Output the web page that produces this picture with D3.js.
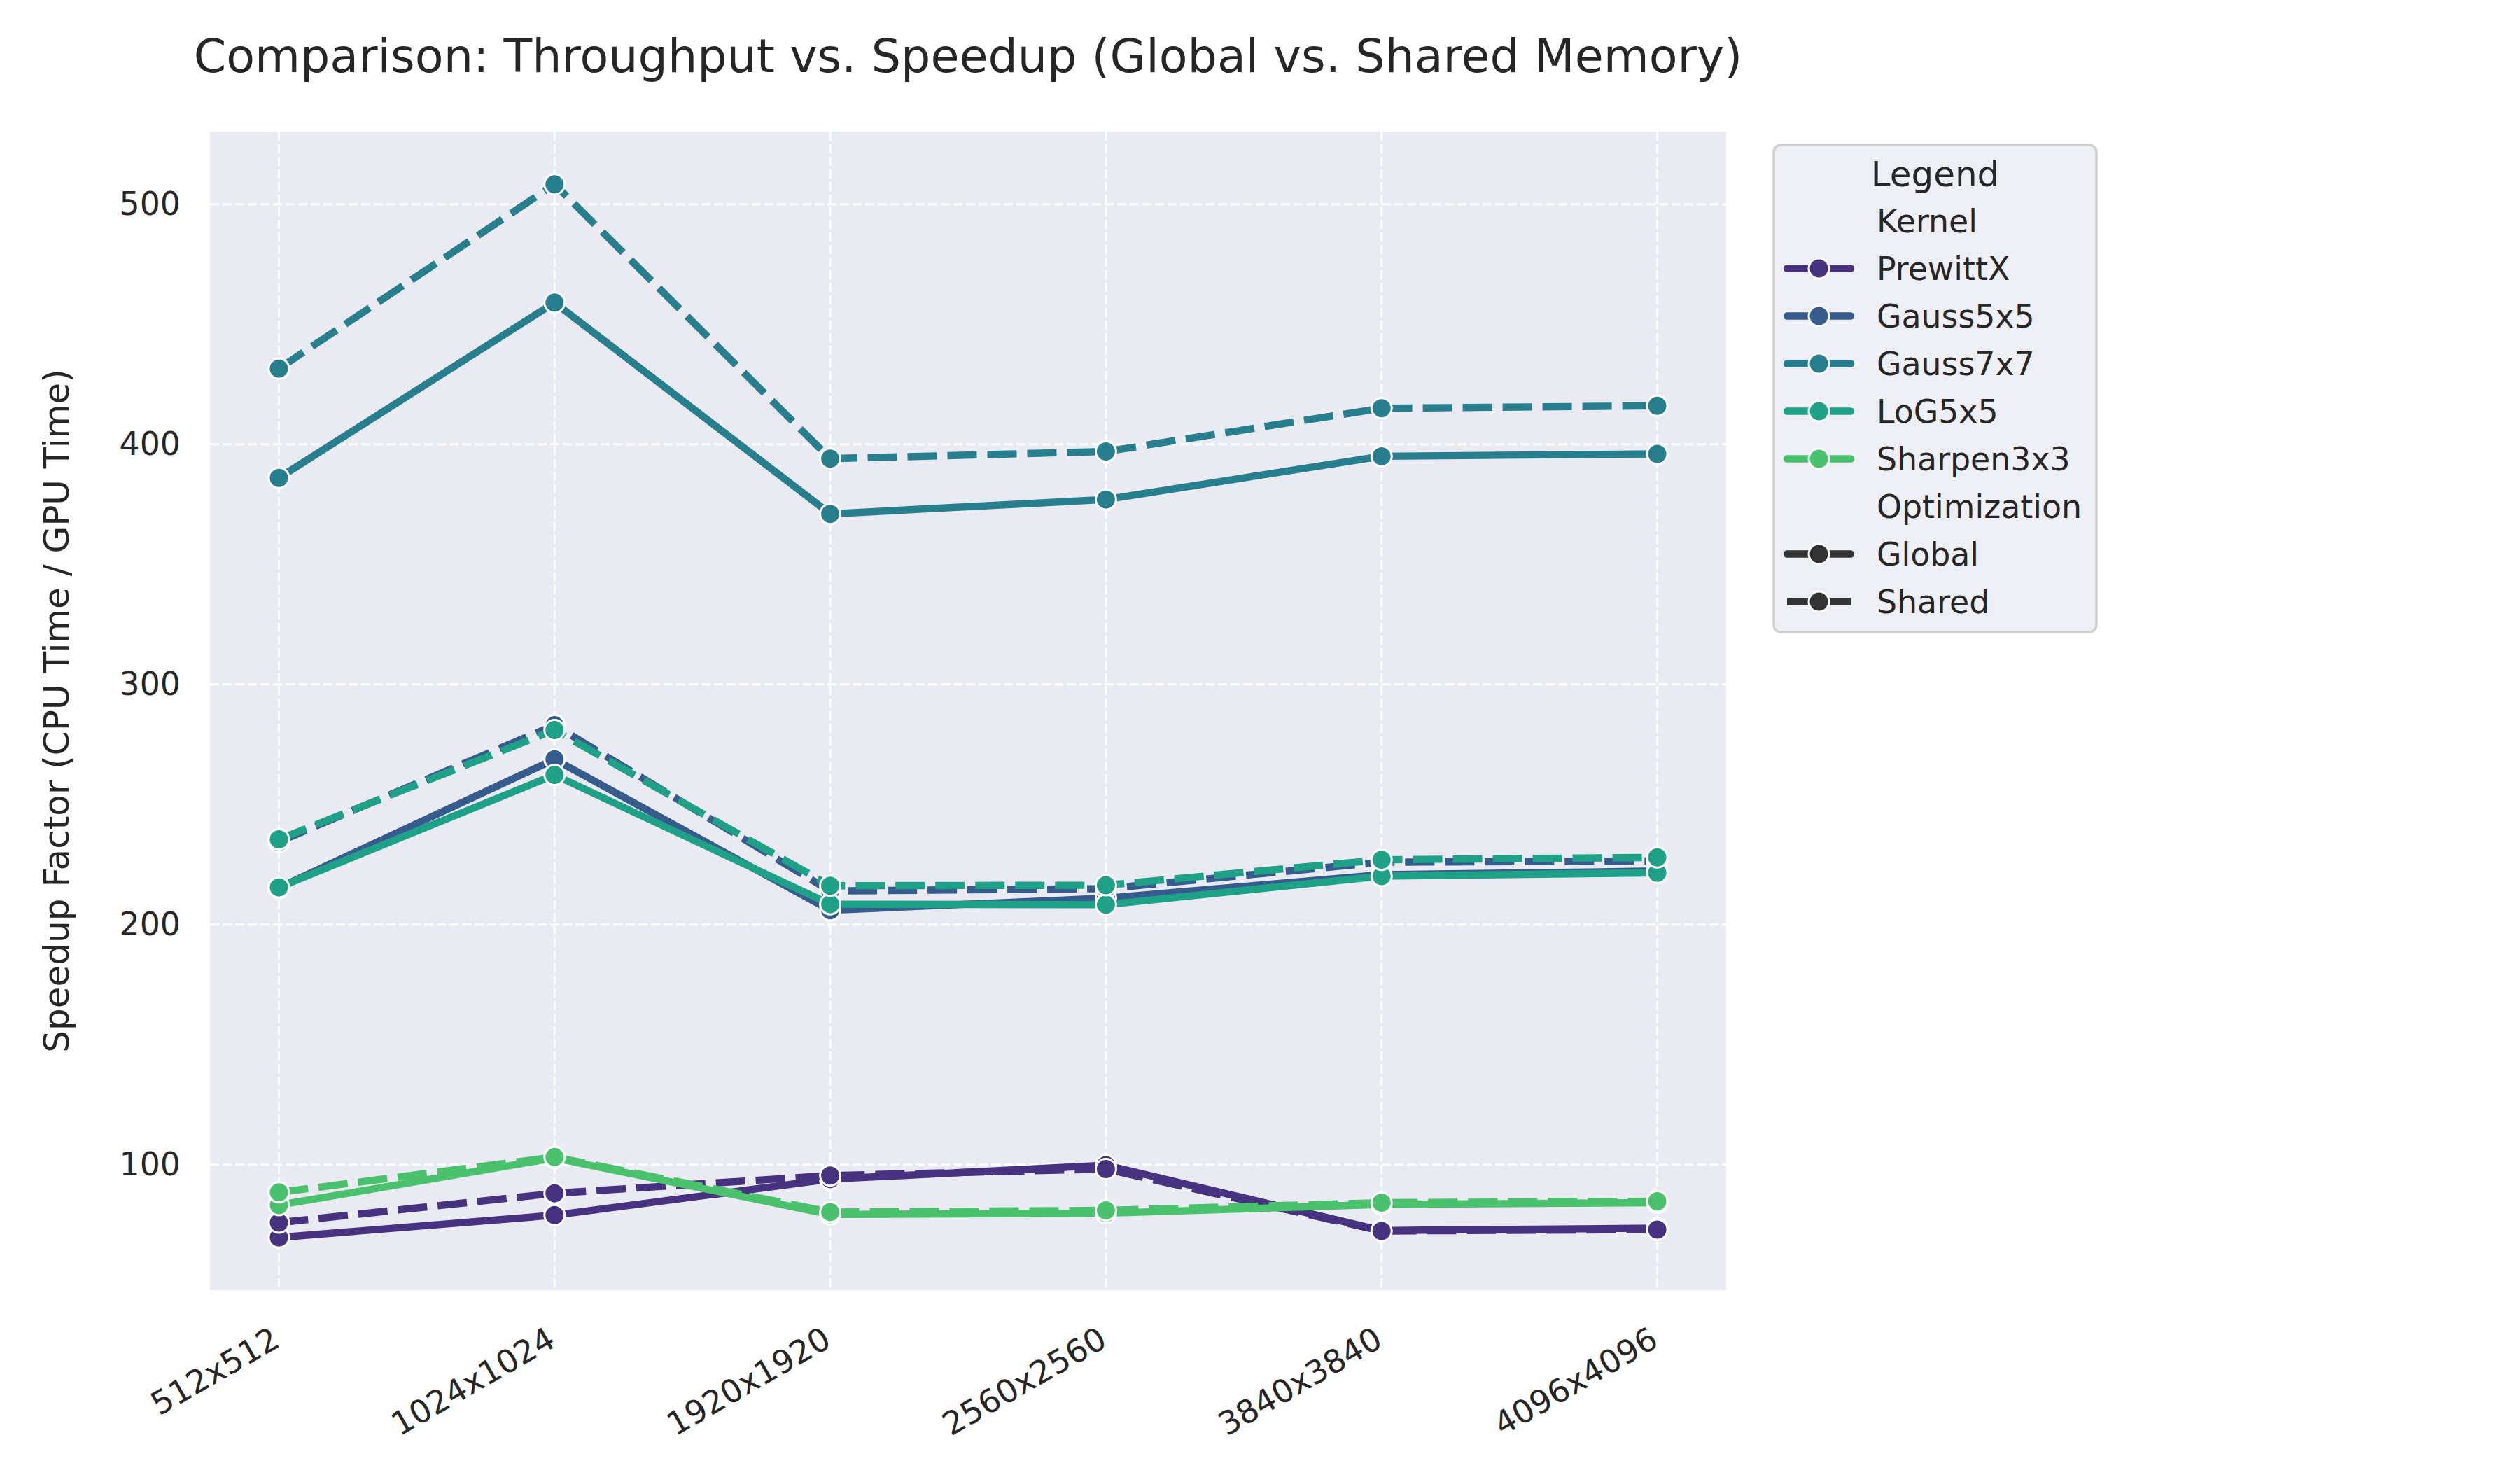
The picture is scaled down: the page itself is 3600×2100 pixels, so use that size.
<!DOCTYPE html>
<meta charset="utf-8">
<style>
    body { margin: 0; background: #fff; }
    text { font-family: "DejaVu Sans", sans-serif; fill: #262626; }
</style>
<script src="https://cdn.jsdelivr.net/npm/d3@7"></script>
<div id="chart"></div>
<script>
    // image sizes on the x axis
    var sizes = ["512x512", "1024x1024", "1920x1920", "2560x2560", "3840x3840", "4096x4096"];
    var kernels = ["PrewittX", "Gauss5x5", "Gauss7x7", "LoG5x5", "Sharpen3x3"];
    var optimizations = ["Global", "Shared"];
    var yTicks = [100, 200, 300, 400, 500];

    // speedup factor, one array per kernel / optimization
    var prewittGlobal = [69.7, 79.0, 94.0, 99.8, 72.6, 73.6];
    var prewittShared = [75.9, 88.1, 95.5, 98.2, 72.4, 73.0];
    var gauss5Global  = [215.3, 268.8, 206.0, 211.0, 220.8, 222.3];
    var gauss5Shared  = [234.5, 283.0, 214.0, 215.0, 226.0, 226.5];
    var gauss7Global  = [386.0, 459.0, 371.0, 377.0, 395.0, 396.0];
    var gauss7Shared  = [431.5, 508.3, 394.0, 397.0, 415.0, 416.0];
    var logGlobal     = [215.5, 262.3, 208.5, 208.3, 220.2, 221.6];
    var logShared     = [235.5, 281.0, 216.2, 216.4, 227.0, 228.0];
    var sharpGlobal   = [83.2, 102.8, 79.3, 79.8, 83.5, 84.2];
    var sharpShared   = [88.5, 103.2, 80.3, 81.0, 84.2, 84.8];

    var series = [
        [prewittGlobal, prewittShared],
        [gauss5Global, gauss5Shared],
        [gauss7Global, gauss7Shared],
        [logGlobal, logShared],
        [sharpGlobal, sharpShared]
    ];

    var colors = ["#46327e", "#365c8d", "#277f8e", "#1fa187", "#4ac16d"];

    var width = 3600, height = 2100;
    var plotLeft = 300, plotRight = 2466, plotTop = 188, plotBottom = 1843;
    var lw = 10.4;                 // line width
    var dash = "42,15";
    var markR = 14.5;

    var svg = d3.select("#chart").append("svg").attr("width", width).attr("height", height);
    svg.append("rect").attr("width", width).attr("height", height).attr("fill", "#fff");

    // Scales (5% padding like matplotlib autoscale).
    var x = d3.scaleLinear().domain([-0.25, sizes.length - 1 + 0.25]).range([plotLeft, plotRight]);
    var allVals = [].concat.apply([], series.map(function(s) { return s[0].concat(s[1]); }));
    var yMin = d3.min(allVals), yMax = d3.max(allVals), pad = (yMax - yMin) * 0.05;
    var y = d3.scaleLinear().domain([yMin - pad, yMax + pad]).range([plotBottom, plotTop]);

    // Plot background.
    svg.append("rect").attr("x", plotLeft).attr("y", plotTop)
        .attr("width", plotRight - plotLeft).attr("height", plotBottom - plotTop).attr("fill", "#eaeaf2");

    // Grid lines.
    var grid = svg.append("g");
    yTicks.forEach(function(t) {
        grid.append("line").attr("x1", plotLeft).attr("x2", plotRight).attr("y1", y(t)).attr("y2", y(t))
            .attr("stroke", "#fff").attr("stroke-width", 3).attr("stroke-dasharray", "13,5");
    });
    sizes.forEach(function(s, i) {
        grid.append("line").attr("x1", x(i)).attr("x2", x(i)).attr("y1", plotTop).attr("y2", plotBottom)
            .attr("stroke", "#fff").attr("stroke-width", 3).attr("stroke-dasharray", "13,5");
    });

    // Y axis labels.
    var yAxis = d3.axisLeft(y).tickValues(yTicks).tickSize(0).tickPadding(42);
    var yg = svg.append("g").attr("transform", "translate(" + plotLeft + ",0)").call(yAxis);
    yg.select(".domain").remove();
    yg.selectAll("text").attr("font-size", "45.8px").attr("fill", "#262626")
        .attr("font-family", "DejaVu Sans");

    // X axis labels, rotated 30 degrees.
    var xl = svg.append("g");
    sizes.forEach(function(s, i) {
        xl.append("text")
            .attr("transform", "translate(" + (x(i) + 4) + ",1922) rotate(-30)")
            .attr("text-anchor", "end")
            .attr("font-size", "45.8px")
            .text(s);
    });

    // Lines and markers.
    var line = d3.line().x(function(d, i) { return x(i); }).y(function(d) { return y(d); });
    var plot = svg.append("g");
    series.forEach(function(pair, k) {
        pair.forEach(function(vals, o) {
            var g = plot.append("g");
            g.append("path").attr("d", line(vals))
                .attr("fill", "none").attr("stroke", colors[k]).attr("stroke-width", lw)
                .attr("stroke-linejoin", "round")
                .attr("stroke-linecap", o == 0 ? "round" : "butt")
                .attr("stroke-dasharray", o == 0 ? null : dash);
            vals.forEach(function(v, i) {
                g.append("circle").attr("cx", x(i)).attr("cy", y(v)).attr("r", markR)
                    .attr("fill", colors[k]).attr("stroke", "#fff").attr("stroke-width", 3);
            });
        });
    });

    // Title and y label.
    svg.append("text").attr("x", (plotLeft + plotRight) / 2).attr("y", 103)
        .attr("text-anchor", "middle").attr("font-size", "66.7px")
        .text("Comparison: Throughput vs. Speedup (Global vs. Shared Memory)");
    svg.append("text").attr("transform", "translate(98," + (plotTop + plotBottom) / 2 + ") rotate(-90)")
        .attr("text-anchor", "middle").attr("font-size", "50px")
        .text("Speedup Factor (CPU Time / GPU Time)");

    // Legend.
    var lg = svg.append("g");
    var lgLeft = 2534, lgRight = 2995, lgTop = 207, lgBottom = 903;
    lg.append("rect").attr("x", lgLeft).attr("y", lgTop)
        .attr("width", lgRight - lgLeft).attr("height", lgBottom - lgTop)
        .attr("rx", 10).attr("fill", "#eeeef5").attr("stroke", "#d0d0d0").attr("stroke-width", 3.5);
    lg.append("text").attr("x", (lgLeft + lgRight) / 2).attr("y", 248 + 18)
        .attr("text-anchor", "middle").attr("font-size", "50px").text("Legend");

    var rowY = function(r) { return 315.5 + r * 68; };
    var textX = 2681, h0 = 2553, h1 = 2644, hc = 2598.5;
    var entries = [{label: "Kernel", header: true}];
    kernels.forEach(function(k, i) { entries.push({label: k, color: colors[i], dashed: false}); });
    entries.push({label: "Optimization", header: true});
    optimizations.forEach(function(o, i) { entries.push({label: o, color: "#333333", dashed: i == 1}); });

    entries.forEach(function(e, r) {
        var cy = rowY(r);
        lg.append("text").attr("x", textX).attr("y", cy + 16.5).attr("font-size", "45.8px").text(e.label);
        if (e.header) return;
        lg.append("line").attr("x1", h0).attr("x2", h1).attr("y1", cy).attr("y2", cy)
            .attr("stroke", e.color).attr("stroke-width", lw)
            .attr("stroke-linecap", e.dashed ? "butt" : "round")
            .attr("stroke-dasharray", e.dashed ? dash : null);
        lg.append("circle").attr("cx", hc).attr("cy", cy).attr("r", markR)
            .attr("fill", e.color).attr("stroke", "#fff").attr("stroke-width", 3);
    });
</script>
